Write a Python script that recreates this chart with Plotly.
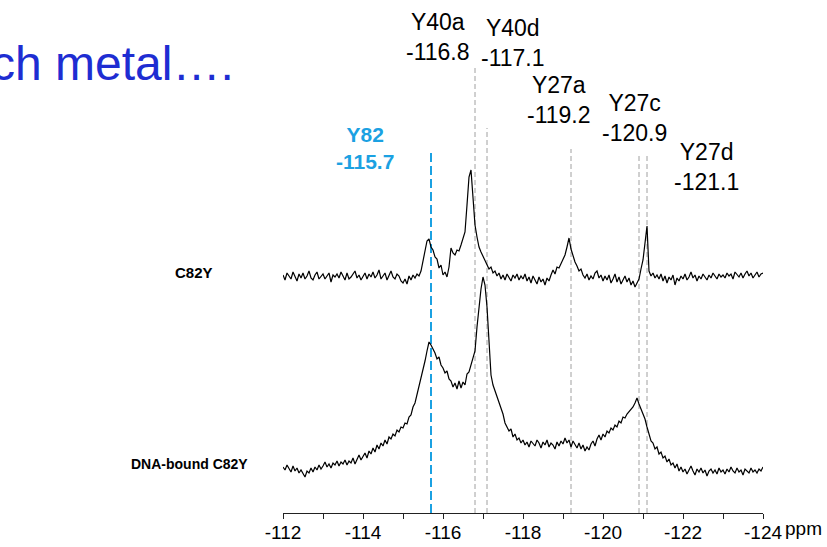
import numpy as np
import plotly.graph_objects as go

# 19F NMR spectra, chemical shift axis in ppm (sampled every 0.05 ppm from -112 to -124)
ppm_start, ppm_end = -112.0, -124.0

# C82Y spectrum (relative intensity)
c82y = [
    2, -3, 4, 1, -2, 5, 0, -4, 3, -1, 4, -2, 1, 6, -1, -3, 2, 5, -2, 0,
    3, -2, 1, 4, -5, 2, 0, 3, -1, 5, 1, -3, 4, -2, 0, 3, 6, -1, 2, -3,
    1, 4, -2, 3, 0, 5, -1, 2, 7, -2, 1, 4, -3, 2, 6, 0, -2, 3, 1, -4,
    -6, -2, -7, 1, -3, 2, -1, 3, 1, 6, 17, 26, 36, 38, 30, 27, 20, 18, 9, 12,
    2, 5, 0, 10, 29, 24, 22, 27, 26, 32, 38, 45, 72, 100, 107, 82, 52, 40, 30, 25,
    21, 16, 12, 8, 10, 4, 6, 1, 4, -2, 2, -3, 3, 0, -4, 2, -1, 3, -3, 1,
    -2, 3, -4, 0, -6, 1, -3, -7, 0, -5, -2, -8, -1, -4, 2, 7, 3, 10, 9, 14,
    18, 22, 30, 39, 28, 20, 15, 11, 6, 8, 2, -1, 3, -3, 1, -2, 4, 6, -1, 2,
    -4, 1, -3, 2, -6, -2, 3, -5, 0, -7, -3, 1, -5, -1, -8, -4, -10, -6, -2, 8,
    17, 34, 51, 6, 1, 4, -1, 2, -2, 3, -4, 1, -6, 0, -3, 2, -8, -1, -4, 1,
    -2, 3, -3, 0, 5, -1, 2, -4, 1, -2, 3, 0, -3, 2, -1, 4, 1, -2, 3, 0,
    2, -1, 4, 1, 3, -2, 5, 2, 0, 4, -1, 3, 6, 1, 4, -1, 2, 5, 0, 3,
    4,
]

# DNA-bound C82Y spectrum (relative intensity)
dna_c82y = [
    0, -3, 2, -2, -5, 1, -4, -1, -6, -3, -7, -10, -4, -6, -1, -5, 0, -3, 2, -2,
    1, 5, 0, 3, -1, 4, 2, 6, 1, 5, 3, 7, 2, 6, 4, 9, 3, 8, 12, 7,
    10, 14, 9, 16, 13, 19, 15, 22, 18, 24, 21, 27, 23, 30, 28, 33, 31, 37, 35, 40,
    39, 44, 43, 50, 52, 60, 64, 72, 82, 90, 96, 106, 116, 125, 122, 118, 114, 108, 110, 102,
    99, 94, 96, 88, 86, 80, 84, 78, 86, 79, 85, 82, 93, 95, 103, 108, 116, 140, 160, 178,
    190, 182, 160, 125, 92, 82, 76, 70, 64, 60, 53, 44, 40, 36, 38, 30, 33, 27, 29, 24,
    27, 22, 25, 20, 26, 23, 21, 27, 24, 19, 25, 22, 27, 20, 24, 22, 18, 25, 21, 26,
    23, 29, 24, 27, 20, 26, 22, 19, 24, 18, 22, 16, 20, 17, 23, 26, 21, 28, 32, 27,
    33, 30, 36, 34, 39, 37, 42, 40, 46, 44, 50, 49, 53, 55, 57, 60, 64, 69, 63, 58,
    55, 48, 40, 32, 26, 24, 18, 20, 13, 15, 9, 11, 5, 8, 2, 4, -1, 3, -4, 0,
    -5, -2, -7, -3, 1, -4, -8, -2, -5, -1, -6, -3, -9, -4, -2, -6, -3, -7, -1, -5,
    -3, -7, -2, -5, 0, -4, -6, -1, -5, -3, -8, -2, -4, -6, -1, -5, -3, -6, -2, -4,
    0,
]

# Peak assignments
peak_names = ["Y82", "Y40a", "Y40d", "Y27a", "Y27c", "Y27d"]
peak_shifts = [-115.7, -116.8, -117.1, -119.2, -120.9, -121.1]

tick_values = [-112, -114, -116, -118, -120, -122, -124]

ppm = np.linspace(ppm_start, ppm_end, len(c82y))

W, H = 827, 547
ML, MR, MT, MB = 283, 64, 0, 34
PW, PH = W - ML - MR, H - MT - MB


def px(x):
    return (x - ML) / PW


def py(y):
    return (H - MB - y) / PH


OFFSET_TOP = 236
OFFSET_BOTTOM = 46

fig = go.Figure()
fig.add_trace(go.Scatter(x=ppm, y=np.array(c82y) + OFFSET_TOP, mode="lines",
                         line=dict(color="black", width=1.2), hoverinfo="skip"))
fig.add_trace(go.Scatter(x=ppm, y=np.array(dna_c82y) + OFFSET_BOTTOM, mode="lines",
                         line=dict(color="black", width=1.2), hoverinfo="skip"))

# dashed markers at each assigned shift (top edge in plot units)
line_tops = [362, 447, 385, 364, 360, 360]
for name, shift, top in zip(peak_names, peak_shifts, line_tops):
    if name == "Y82":
        ln = dict(color="#1BA1E2", width=2, dash="9px,4px")
    else:
        ln = dict(color="#A0A0A0", width=1, dash="5px,3px")
    fig.add_shape(type="line", xref="x", yref="y", x0=shift, x1=shift,
                  y0=0, y1=top, line=ln, layer="below")

# peak labels (pixel centres of each two-line block)
label_pos = {
    "Y82": (365, 148),
    "Y40a": (438, 37),
    "Y40d": (513, 43),
    "Y27a": (559, 100),
    "Y27c": (634, 118),
    "Y27d": (706, 167),
}
for name, shift in zip(peak_names, peak_shifts):
    x, y = label_pos[name]
    if name == "Y82":
        text = f"<b>{name}<br>{shift:.1f}</b>"
        font = dict(family="Liberation Sans, Arial", size=21, color="#1BA1E2")
    else:
        text = f"{name}<br>{shift:.1f}"
        font = dict(family="Liberation Sans, Arial", size=23, color="black")
    fig.add_annotation(xref="paper", yref="paper", x=px(x), y=py(y), text=text,
                       showarrow=False, xanchor="center", yanchor="middle",
                       font=font, align="center")

# spectrum labels
fig.add_annotation(xref="paper", yref="paper", x=px(215), y=py(272), text="<b>C82Y</b>",
                   showarrow=False, xanchor="right", yanchor="middle",
                   font=dict(family="Liberation Sans, Arial", size=15, color="black"))
fig.add_annotation(xref="paper", yref="paper", x=px(250), y=py(464), text="<b>DNA-bound C82Y</b>",
                   showarrow=False, xanchor="right", yanchor="middle",
                   font=dict(family="Liberation Sans, Arial", size=14, color="black"))

# slide heading fragment
fig.add_annotation(xref="paper", yref="paper", x=px(236), y=py(63), text="ch metal….",
                   showarrow=False, xanchor="right", yanchor="middle",
                   font=dict(family="Liberation Sans, Arial", size=48, color="#1E2DD2"))

# axis unit
fig.add_annotation(xref="paper", yref="paper", x=px(783), y=py(528), text="ppm",
                   showarrow=False, xanchor="left", yanchor="middle",
                   font=dict(family="Liberation Sans Narrow, Liberation Sans, Arial", size=19, color="black"))

all_ticks = list(range(-112, -125, -1))
fig.update_xaxes(range=[ppm_start, ppm_end], showgrid=False, zeroline=False,
                 showline=True, linecolor="#222222", linewidth=1,
                 ticks="outside", ticklen=5, tickcolor="#222222",
                 tickvals=all_ticks, ticklabelstandoff=-3,
                 ticktext=[str(t) if t in tick_values else "" for t in all_ticks],
                 tickfont=dict(family="Liberation Sans Narrow, Liberation Sans, Arial", size=19, color="black"))
fig.update_yaxes(range=[0, PH], visible=False, fixedrange=True)

fig.update_layout(width=W, height=H, margin=dict(l=ML, r=MR, t=MT, b=MB),
                  paper_bgcolor="white", plot_bgcolor="white", showlegend=False)

fig.write_html("out.html")
